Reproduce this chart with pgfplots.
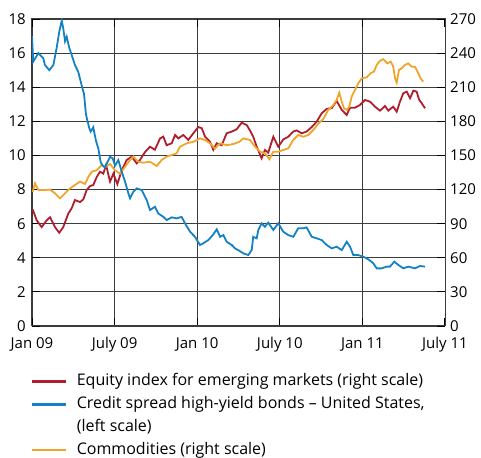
\documentclass[border=0pt]{standalone}
\usepackage{pgfplots}
\pgfplotsset{compat=1.18}
\usepackage{fontspec}
\setmainfont{Open Sans}
\definecolor{cred}{RGB}{174,30,45}
\definecolor{cblue}{RGB}{21,129,197}
\definecolor{corange}{RGB}{239,165,44}
\definecolor{cgrid}{RGB}{60,60,60}
\begin{document}
\fontsize{15}{18}\selectfont
\begin{tikzpicture}
\path[use as bounding box] (-32pt,-131pt) rectangle (449pt,326pt);
\pgfplotsset{
  base/.style={
    scale only axis, width=413pt, height=307pt,
    xmin=0, xmax=30,
    xtick={0,6,12,18,24,30},
    /pgf/number format/assume math mode=true,
    tick label style={font=\fontsize{15}{18}\selectfont},
    tick align=inside,
    major tick length=8pt,
  }
}
% right scale axis: frame, grid, red and orange
\begin{axis}[base,
  ymin=0, ymax=270,
  ytick={0,30,...,270},
  yticklabel pos=right,
  xticklabels={Jan 09,July 09,Jan 10,July 10,Jan 11,July 11},
  xticklabel style={anchor=base, yshift=-22.3pt},
  grid=major,
  major grid style={cgrid, line width=0.8pt},
  axis line style={cgrid, line width=1pt},
  tick style={black, line width=1.2pt},
  legend cell align=left,
  legend style={draw=none, fill=none, at={(rel axis cs:-0.0048,-0.1537)}, anchor=north west,
    font=\fontsize{16}{20}\selectfont, row sep=6.3pt, inner sep=0pt,
    nodes={inner sep=0pt, text height=12.5pt, text depth=4pt},
    /tikz/every odd column/.append style={column sep=10pt}},
  legend image code/.code={\draw[#1, line width=2.6pt] (0pt,0pt) -- (34pt,0pt);},
]
\addplot[cred, line width=1.8pt] coordinates {
(0.05,102.6) (0.34,93) (0.70,87) (1.07,93) (1.31,95.6) (1.67,87) (1.98,82) (2.27,87) (2.64,99) (2.88,103.5)
(3.12,110.8) (3.49,109) (3.73,111.4) (3.97,119.6) (4.21,123) (4.45,124) (4.70,131) (4.94,135.7) (5.18,134)
(5.38,141.6) (5.67,127) (5.91,134) (6.20,124.8) (6.52,137) (6.88,146) (7.24,148.9) (7.61,143) (7.84,146)
(8.21,153) (8.57,157.7) (8.93,155) (9.30,165) (9.54,166.5) (9.78,159) (10.15,160.7) (10.39,168) (10.63,165)
(10.99,168) (11.35,163.6) (11.72,169.5) (12.08,175) (12.33,174) (12.57,166.5) (12.93,162) (13.17,155)
(13.42,160.7) (13.78,159) (14.14,169.5) (14.51,171) (14.87,173) (15.23,178.8) (15.60,176.7) (15.83,172)
(16.07,166.5) (16.32,157.7) (16.68,147.5) (16.92,154.8) (17.16,152.4) (17.53,166.5) (17.89,157.7)
(18.25,164) (18.62,166.5) (18.98,171) (19.23,172) (19.59,169.5) (19.95,171) (20.32,175) (20.68,179.7)
(21.04,187) (21.41,191) (21.77,191.5) (22.13,198) (22.50,190) (22.86,185.6) (23.10,192) (23.46,192)
(23.83,194.4) (24.19,198.8) (24.55,197.3) (24.91,192.9) (25.28,189.4) (25.64,193.5) (25.88,189.4)
(26.24,192.9) (26.49,188.5) (26.73,197.3) (26.97,204.7) (27.22,206.1) (27.46,200.3) (27.70,207)
(27.94,206.1) (28.13,198.8) (28.31,195.9) (28.55,191.5)
};
\addlegendentry{Equity index for emerging markets (right scale)}
\addlegendimage{cblue}
\addlegendentry{Credit spread high-yield bonds -- United States,}
\addlegendimage{empty legend}
\addlegendentry{(left scale)}
\addplot[corange, line width=1.8pt] coordinates {
(0.05,118) (0.22,125.5) (0.46,119.6) (0.94,119.6) (1.31,120) (1.67,116.7) (2.03,112.3) (2.40,116.7)
(2.76,121) (3.12,124) (3.49,127) (3.85,124.9) (4.09,131) (4.34,135.7) (4.70,137) (5.06,141.6) (5.30,139.6)
(5.67,142.5) (6.03,137) (6.39,134) (6.76,140) (7.12,146) (7.36,149) (7.72,144.5) (8.08,143.6) (8.57,144.5)
(9.06,140.7) (9.42,146) (9.78,149) (10.15,150.4) (10.51,151.9) (10.75,157.7) (11.24,160.7) (11.72,162)
(12.20,165) (12.57,163.6) (12.93,160.7) (13.29,156) (13.66,160.7) (14.14,159) (14.62,160) (15.06,162)
(15.35,165) (15.83,163.6) (16.20,157.7) (16.56,153.3) (16.92,151.9) (17.24,146.6) (17.53,153.3)
(17.89,153.3) (18.25,154.8) (18.62,156.3) (18.98,163.6) (19.34,168) (19.71,166.5) (20.07,168)
(20.43,172.4) (20.80,178) (21.16,182) (21.52,190) (21.89,194.4) (22.13,198.8) (22.32,205.2) (22.50,197.3)
(22.66,191.5) (22.86,190) (23.05,192.9) (23.22,201.7) (23.46,207.6) (23.70,213.4) (23.95,217.8)
(24.31,218.7) (24.60,222.3) (24.84,223.7) (25.04,229.6) (25.28,233.3) (25.52,234.6) (25.81,231)
(26.06,232.5) (26.24,228) (26.37,217.8) (26.49,214) (26.66,225.2) (26.85,226.6) (27.09,229.6)
(27.33,231) (27.58,228) (27.82,228) (28.06,222.3) (28.23,217.8) (28.42,214.9)
};
\addlegendentry{Commodities (right scale)}
\end{axis}
% left scale axis: blue
\begin{axis}[base,
  ymin=0, ymax=18,
  ytick={0,2,...,18},
  axis x line=none,
  axis y line*=left,
  axis line style={draw=none},
  major tick length=0pt,
  yticklabel style={xshift=-1pt},
]
\addplot[cblue, line width=1.8pt] coordinates {
(0,17.0) (0.09,15.5) (0.46,16.0) (0.82,15.7) (0.94,15.3) (1.26,15.0) (1.55,15.3) (1.79,16.3) (1.98,17.25)
(2.16,17.9) (2.27,17.45) (2.40,16.7) (2.52,16.96) (2.71,16.3) (2.88,15.9) (3.12,15.3) (3.36,14.9) (3.61,14.1)
(3.78,13.6) (3.92,12.4) (4.16,11.6) (4.26,11.4) (4.45,11.65) (4.65,10.85) (4.82,10.4) (4.99,9.6) (5.14,9.4)
(5.30,9.3) (5.54,9.7) (5.67,9.92) (5.86,9.83) (6.03,9.4) (6.27,9.73) (6.52,9.04) (6.76,8.46) (7.00,7.78)
(7.12,7.49) (7.36,7.87) (7.61,8.07) (7.97,7.97) (8.33,7.39) (8.57,6.8) (8.93,6.99) (9.17,6.6) (9.54,6.4)
(9.78,6.21) (10.15,6.37) (10.51,6.31) (10.87,6.4) (11.11,6.02) (11.48,5.53) (11.84,5.23) (12.20,4.75)
(12.44,4.85) (12.81,5.04) (13.13,5.33) (13.42,5.67) (13.66,5.23) (13.90,5.33) (14.14,4.94) (14.51,4.75)
(14.75,4.55) (15.06,4.41) (15.35,4.26) (15.71,4.16) (15.96,4.45) (16.07,5.23) (16.32,5.14) (16.44,5.63)
(16.68,6.02) (16.92,5.82) (17.16,6.06) (17.53,5.63) (17.89,6.02) (18.25,5.53) (18.62,5.33) (18.98,5.23)
(19.34,5.73) (19.71,5.73) (19.95,5.78) (20.32,5.23) (20.68,5.14) (21.04,5.04) (21.41,4.75) (21.77,4.55)
(22.13,4.65) (22.50,4.45) (22.86,4.94) (23.10,4.65) (23.34,4.16) (23.70,4.16) (24.07,4.06) (24.43,3.91)
(24.79,3.68) (25.04,3.38) (25.40,3.38) (25.76,3.48) (26.00,3.48) (26.32,3.77) (26.61,3.58) (26.97,3.38)
(27.33,3.48) (27.82,3.38) (28.18,3.52) (28.55,3.48)
};
\end{axis}
\end{tikzpicture}
\end{document}
